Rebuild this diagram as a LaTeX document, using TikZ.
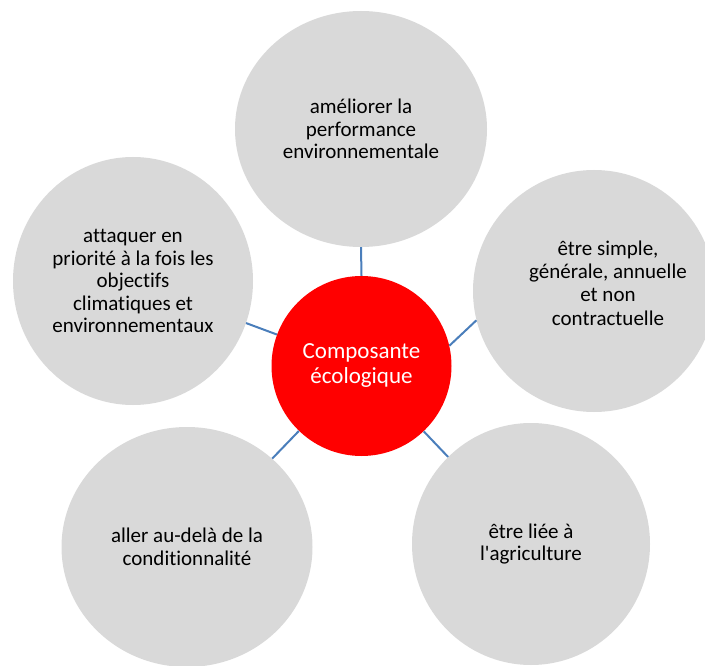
\documentclass[tikz,border=0pt]{standalone}
\usepackage{fontspec}
\setmainfont{Carlito}[Ligatures=NoCommon]
\usepackage{tikz}
\usetikzlibrary{shapes.geometric}
\definecolor{grisbulle}{HTML}{D9D9D9}
\definecolor{rougenoyau}{HTML}{FF0000}
\definecolor{bleulien}{HTML}{4A7EBB}

\begin{document}
\begin{tikzpicture}[
        x=1pt, y=-1pt,
        bulle/.style={ellipse, fill=grisbulle, inner sep=0pt, align=center, text=black, font=\fontsize{21}{22.5}\selectfont},
        texte/.style={inner sep=0pt, align=center, text=black, font=\fontsize{21}{23.3}\selectfont},
        noyau/.style={circle, fill=rougenoyau, minimum size=180pt, inner sep=0pt, align=center, text=white, font=\fontsize{23}{25}\selectfont},
        lien/.style={bleulien, line width=2pt}
        ]
        \clip (0,0) rectangle (705,666);
        % Noeud central
        \node[noyau] (composante) at (361.5,366) {Composante\\écologique};

        % Bulles autour
        \node[bulle, minimum width=252pt, minimum height=236pt] (ameliorer) at (361,129) {améliorer la\\performance\\environnementale};
        \node[bulle, minimum width=242pt, minimum height=242pt] (simple) at (594,291) {};
        \node[texte] (simple-texte) at (608,283) {être simple,\\générale, annuelle\\et non\\contractuelle};
        \node[bulle, minimum width=238pt, minimum height=242pt] (agriculture) at (531,544) {être liée à\\l\textquotesingle agriculture};
        \node[bulle, minimum width=251pt, minimum height=240pt] (audela) at (187,547) {aller au-delà de la\\conditionnalité};
        \node[bulle, minimum width=240pt, minimum height=248pt] (attaquer) at (133,281) {attaquer en\\priorité à la fois les\\objectifs\\climatiques et\\environnementaux};

        % Liens
        \draw[lien] (composante.90) -- (ameliorer.270);
        \draw[lien] (composante.13) -- (simple.194);
        \draw[lien] (composante) -- (agriculture);
        \draw[lien] (composante) -- (audela);
        \draw[lien] (composante) -- (attaquer);
\end{tikzpicture}
\end{document}
